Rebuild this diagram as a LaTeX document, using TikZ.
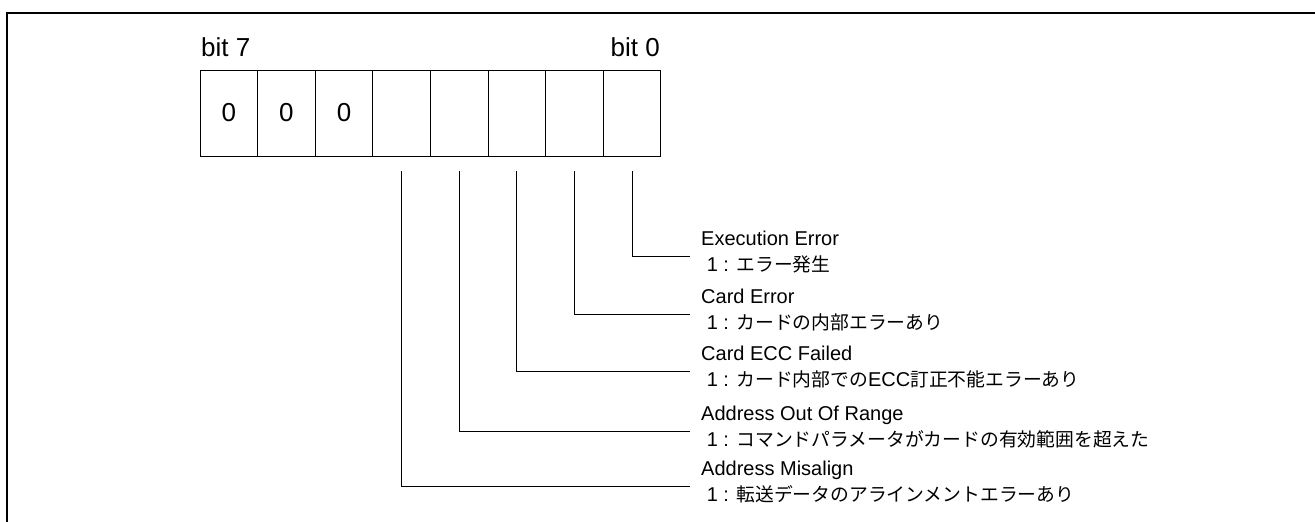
\documentclass[tikz,border=0pt]{standalone}
\usepackage{fontspec}
\setmainfont{Liberation Sans}
\newfontfamily\jpfont{Noto Sans CJK JP}[Scale=0.94]
\usetikzlibrary{positioning}

\tikzset{
  bitcell/.style={draw, rectangle, line width=1pt, minimum width=57.6pt, minimum height=86pt,
    inner sep=0pt, outer sep=0pt, font=\fontsize{26}{30}\selectfont},
  bitlabel/.style={inner sep=0pt, font=\fontsize{26}{30}\selectfont},
  bitname/.style={inner sep=0pt, anchor=base west, font=\fontsize{20}{24}\selectfont},
  bitdesc/.style={inner sep=0pt, anchor=base west, font=\fontsize{20}{24}\selectfont},
  wire/.style={line width=1pt},
  frame/.style={line width=2.2pt}
}

\begin{document}
\begin{tikzpicture}[x=1pt, y=-1pt]
\useasboundingbox (0,0) rectangle (1315,522);
\draw[frame] (7,522) -- (7,13) -- (1315,13);

% register cells, bit 7 on the left
\node[bitcell] (b7) at (228.8,113) {0};
\node[bitcell, right=0pt of b7] (b6) {0};
\node[bitcell, right=0pt of b6] (b5) {0};
\node[bitcell, right=0pt of b5] (b4) {};
\node[bitcell, right=0pt of b4] (b3) {};
\node[bitcell, right=0pt of b3] (b2) {};
\node[bitcell, right=0pt of b2] (b1) {};
\node[bitcell, right=0pt of b1] (b0) {};
\node[bitlabel, anchor=base west] (msb) at (201,56) {bit 7};
\node[bitlabel, anchor=base east] (lsb) at (660,56) {bit 0};

% bit descriptions
\coordinate (e0) at (690,256);
\coordinate (e1) at (690,314);
\coordinate (e2) at (690,371);
\coordinate (e3) at (690,431);
\coordinate (e4) at (690,486);
\node[bitname] (n0) at (701,245) {Execution Error};
\node[bitdesc] (d0) at (701,271) {\hspace*{0.28em}1 : {\jpfont エラー発生}};
\node[bitname] (n1) at (701,303) {Card Error};
\node[bitdesc] (d1) at (701,329) {\hspace*{0.28em}1 : {\jpfont カードの内部エラーあり}};
\node[bitname] (n2) at (701,360) {Card ECC Failed};
\node[bitdesc] (d2) at (701,386) {\hspace*{0.28em}1 : {\jpfont カード内部での}ECC{\jpfont 訂正不能エラーあり}};
\node[bitname] (n3) at (701,420) {Address Out Of Range};
\node[bitdesc] (d3) at (701,446) {\hspace*{0.28em}1 : {\jpfont コマンドパラメータがカードの有効範囲を超えた}};
\node[bitname] (n4) at (701,475) {Address Misalign};
\node[bitdesc] (d4) at (701,501) {\hspace*{0.28em}1 : {\jpfont 転送データのアラインメントエラーあり}};

\draw[wire] ([yshift=-15pt]b0.south) |- (e0);
\draw[wire] ([yshift=-15pt]b1.south) |- (e1);
\draw[wire] ([yshift=-15pt]b2.south) |- (e2);
\draw[wire] ([yshift=-15pt]b3.south) |- (e3);
\draw[wire] ([yshift=-15pt]b4.south) |- (e4);
\end{tikzpicture}
\end{document}
